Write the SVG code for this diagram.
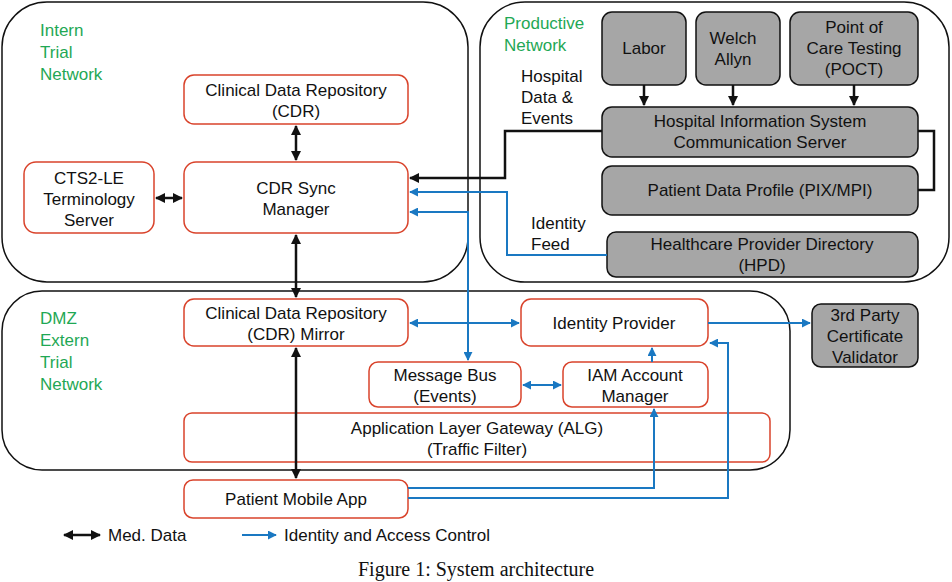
<svg xmlns="http://www.w3.org/2000/svg" width="952" height="582" viewBox="0 0 952 582">
<style>
text{font-family:"Liberation Sans",Arial,sans-serif;font-size:17px;fill:#111;text-anchor:middle}
.g{fill:#1fa855;text-anchor:start}
.l{text-anchor:start}
.zone{fill:none;stroke:#111;stroke-width:1.5}
.n rect{fill:#fff;stroke:#d9432b;stroke-width:1.5}
.p rect{fill:#a6a6a6;stroke:#111;stroke-width:1.5}
.k{fill:none;stroke:#111;stroke-width:2.5}
.b{fill:none;stroke:#1a78c2;stroke-width:2}
</style>
<defs>
<marker id="ak" viewBox="0 0 10 10" refX="9" refY="5" markerWidth="4" markerHeight="4" orient="auto-start-reverse"><path d="M0,0L10,5L0,10z" fill="#111"/></marker>
<marker id="ab" viewBox="0 0 10 10" refX="9" refY="5" markerWidth="4.5" markerHeight="4.5" orient="auto-start-reverse"><path d="M0,0L10,5L0,10z" fill="#1a78c2"/></marker>
</defs>
<g id="zones">
<rect class="zone" x="2" y="2" width="466" height="280" rx="45"/>
<rect class="zone" x="480" y="2" width="469" height="280" rx="45"/>
<rect class="zone" x="2" y="291" width="788" height="179" rx="40"/>
<text class="g" x="40" y="36">Intern</text><text class="g" x="40" y="58">Trial</text><text class="g" x="40" y="80">Network</text>
<text class="g" x="504" y="29">Productive</text><text class="g" x="504" y="51">Network</text>
<text class="g" x="40" y="324">DMZ</text><text class="g" x="40" y="346">Extern</text><text class="g" x="40" y="368">Trial</text><text class="g" x="40" y="390">Network</text>
<text class="l" x="521" y="82">Hospital</text><text class="l" x="521" y="103">Data &amp;</text><text class="l" x="521" y="124">Events</text>
<text class="l" x="531" y="229">Identity</text><text class="l" x="531" y="250">Feed</text>
</g>
<g id="cdr" class="n"><rect x="184" y="75" width="224" height="49" rx="10"/><text x="296" y="96">Clinical Data Repository</text><text x="296" y="117">(CDR)</text></g>
<g id="cts2" class="n"><rect x="24" y="162" width="130" height="71" rx="12"/><text x="89" y="184">CTS2-LE</text><text x="89" y="205">Terminology</text><text x="89" y="226">Server</text></g>
<g id="sync" class="n"><rect x="184" y="162" width="224" height="71" rx="12"/><text x="296" y="194">CDR Sync</text><text x="296" y="215">Manager</text></g>
<g id="mirror" class="n"><rect x="184" y="299" width="224" height="47" rx="10"/><text x="296" y="319">Clinical Data Repository</text><text x="296" y="340">(CDR) Mirror</text></g>
<g id="idp" class="n"><rect x="521" y="299" width="187" height="47" rx="10"/><text x="614" y="329">Identity Provider</text></g>
<g id="bus" class="n"><rect x="369" y="362" width="152" height="45" rx="9"/><text x="445" y="381">Message Bus</text><text x="445" y="402">(Events)</text></g>
<g id="iam" class="n"><rect x="563" y="362" width="145" height="45" rx="9"/><text x="635" y="381">IAM Account</text><text x="635" y="402">Manager</text></g>
<g id="alg" class="n"><rect x="184" y="413" width="586" height="49" rx="8"/><text x="477" y="434">Application Layer Gateway (ALG)</text><text x="477" y="455">(Traffic Filter)</text></g>
<g id="app" class="n"><rect x="184" y="480" width="224" height="38" rx="9"/><text x="296" y="505">Patient Mobile App</text></g>
<g id="labor" class="p"><rect x="602" y="12" width="84" height="73" rx="10"/><text x="644" y="54">Labor</text></g>
<g id="welch" class="p"><rect x="696" y="12" width="84" height="73" rx="10"/><text x="733" y="44">Welch</text><text x="733" y="65">Allyn</text></g>
<g id="poct" class="p"><rect x="790" y="12" width="128" height="73" rx="10"/><text x="854" y="33">Point of</text><text x="854" y="54">Care Testing</text><text x="854" y="75">(POCT)</text></g>
<g id="his" class="p"><rect x="602" y="107" width="316" height="50" rx="10"/><text x="760" y="127">Hospital Information System</text><text x="760" y="148">Communication Server</text></g>
<g id="pdp" class="p"><rect x="602" y="166" width="316" height="49" rx="10"/><text x="760" y="196">Patient Data Profile (PIX/MPI)</text></g>
<g id="hpd" class="p"><rect x="607" y="232" width="311" height="45" rx="9"/><text x="762" y="250">Healthcare Provider Directory</text><text x="762" y="271">(HPD)</text></g>
<g id="third" class="p"><rect x="812" y="304" width="106" height="63" rx="9"/><text x="865" y="321">3rd Party</text><text x="865" y="342">Certificate</text><text x="865" y="363">Validator</text></g>
<g id="connectors">
<path class="k" d="M296,126V160" marker-start="url(#ak)" marker-end="url(#ak)"/>
<path class="k" d="M156,198H182" stroke-width="2" marker-start="url(#ak)" marker-end="url(#ak)"/>
<path class="k" d="M296,235V297" marker-start="url(#ak)" marker-end="url(#ak)"/>
<path class="k" d="M296,348V478" marker-start="url(#ak)" marker-end="url(#ak)"/>
<path class="k" d="M644,85V105" stroke-width="1.5" marker-end="url(#ak)"/>
<path class="k" d="M733,85V105" marker-end="url(#ak)"/>
<path class="k" d="M854,85V105" stroke-width="1.5" marker-end="url(#ak)"/>
<path class="k" d="M602,131H505V178H410" marker-end="url(#ak)"/>
<path class="k" d="M918,131H934V190H918" stroke-width="1.5"/>
<path class="b" d="M607,255H507V192H410" marker-end="url(#ab)"/>
<path class="b" d="M410,212H468V360" marker-start="url(#ab)" marker-end="url(#ab)"/>
<path class="b" d="M410,323H519" marker-start="url(#ab)" marker-end="url(#ab)"/>
<path class="b" d="M523,385H561" marker-start="url(#ab)" marker-end="url(#ab)"/>
<path class="b" d="M652,362V348" marker-end="url(#ab)"/>
<path class="b" d="M408,488H654V409" marker-end="url(#ab)"/>
<path class="b" d="M408,498H728V343H710" marker-end="url(#ab)"/>
<path class="b" d="M708,323H810" marker-end="url(#ab)"/>
</g>
<g id="legend">
<path class="k" d="M64,535H100" marker-start="url(#ak)" marker-end="url(#ak)"/>
<text class="l" x="108" y="541">Med. Data</text>
<path class="b" d="M242,535H276" marker-end="url(#ab)"/>
<text class="l" x="284" y="541">Identity and Access Control</text>
</g>
<text x="476" y="576" style="font-family:'Liberation Serif',serif;font-size:20px">Figure 1: System architecture</text>
</svg>
